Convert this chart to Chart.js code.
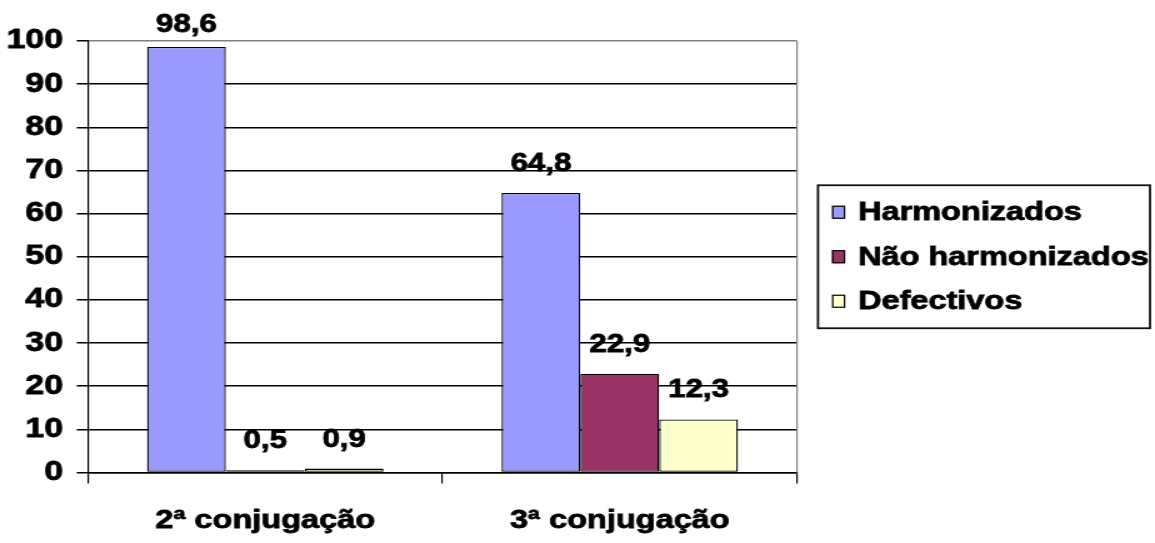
<!DOCTYPE html>
<html>
<head>
<meta charset="utf-8">
<script src="https://cdn.jsdelivr.net/npm/chart.js@4/dist/chart.umd.min.js"></script>
<style>
  body { margin: 0; background: #fff; overflow: hidden; }
  /* the original picture is stretched sideways, so the chart is too */
  #wrap { width: 924px; height: 543px; transform: scaleX(1.25); transform-origin: 0 0; }
</style>
</head>
<body>
<div id="wrap"><canvas id="chartConj" width="924" height="543"></canvas></div>
<script>
const categories = ["2ª conjugação", "3ª conjugação"];
const seriesNames = ["Harmonizados", "Não harmonizados", "Defectivos"];
const harmonizados = [98.6, 64.8];
const naoHarmonizados = [0.5, 22.9];
const defectivos = [0.9, 12.3];
const yMin = 0;
const yMax = 100;
const yStep = 10;

const colors = ["#9999FF", "#993366", "#FFFFCC"];
const fontName = "'Liberation Sans', Arial, sans-serif";
const heavy = 0.8; // extra stroke so the bold text looks as heavy as the original

function fmt(v) {
    return v.toFixed(1).replace(".", ",");
}

function boldText(c, txt, x, y) {
    c.lineWidth = heavy;
    c.strokeStyle = "#000";
    c.strokeText(txt, x, y);
    c.fillText(txt, x, y);
}

// value labels above each bar
const valueLabels = {
    id: "valueLabels",
    afterDatasetsDraw(chart) {
        const c = chart.ctx;
        c.save();
        c.font = "bold 25px " + fontName;
        c.fillStyle = "#000";
        c.textAlign = "center";
        c.textBaseline = "alphabetic";
        chart.data.datasets.forEach((ds, i) => {
            chart.getDatasetMeta(i).data.forEach((bar, j) => {
                const y = Math.max(bar.y - 22, 32);
                boldText(c, fmt(ds.data[j]), bar.x, y);
            });
        });
        c.restore();
    },
};

// gray right border of the plot area
const frame = {
    id: "frame",
    beforeDatasetsDraw(chart) {
        const a = chart.chartArea;
        const c = chart.ctx;
        c.save();
        c.strokeStyle = "#808080";
        c.lineWidth = 1.2;
        c.beginPath();
        c.moveTo(a.right, a.top);
        c.lineTo(a.right, a.bottom);
        c.stroke();
        c.restore();
    },
};

// boxed legend on the right
const boxLegend = {
    id: "boxLegend",
    afterDraw(chart) {
        const a = chart.chartArea;
        const c = chart.ctx;
        const left = a.right + 16.8;
        const right = chart.width - 4;
        const mid = (a.top + a.bottom) / 2;
        const rowH = 44.5;
        const h = 143;
        const top = mid - h / 2;
        c.save();
        c.strokeStyle = "#111";
        c.lineWidth = 1.8;
        c.strokeRect(left, top, right - left, h);
        c.font = "bold 26px " + fontName;
        c.textBaseline = "middle";
        c.textAlign = "left";
        chart.data.datasets.forEach((ds, i) => {
            const y = mid + (i - 1) * rowH;
            c.fillStyle = ds.backgroundColor;
            c.fillRect(left + 11.2, y - 6.5, 10.4, 13);
            c.strokeStyle = "#000";
            c.lineWidth = 1.2;
            c.strokeRect(left + 11.8, y - 6, 9.4, 12);
            c.fillStyle = "#000";
            boldText(c, ds.label, left + 32, y + 1);
        });
        c.restore();
    },
};

const ctx1 = document.getElementById("chartConj");

new Chart(ctx1, {
    type: "bar",
    data: {
        labels: categories,
        datasets: [
            { label: seriesNames[0], data: harmonizados, backgroundColor: colors[0] },
            { label: seriesNames[1], data: naoHarmonizados, backgroundColor: colors[1] },
            { label: seriesNames[2], data: defectivos, backgroundColor: colors[2] },
        ].map((d) => Object.assign(d, {
            borderColor: "#000",
            borderWidth: 1.3,
            borderSkipped: false,
            categoryPercentage: 0.667,
            barPercentage: 1.0,
        })),
    },
    options: {
        responsive: false,
        animation: false,
        layout: {
            padding: { top: 41, right: 286.4, bottom: 0, left: 0 },
        },
        plugins: {
            legend: { display: false },
            tooltip: { enabled: false },
        },
        scales: {
            x: {
                offset: true,
                grid: {
                    offset: true,
                    drawOnChartArea: false,
                    tickLength: 11,
                    tickColor: "#000",
                    color: "#000",
                    lineWidth: 1.2,
                },
                border: { color: "#000", width: 1.5 },
                ticks: {
                    color: "#000",
                    padding: 22,
                    textStrokeColor: "#000",
                    textStrokeWidth: heavy,
                    font: { family: fontName, size: 26, weight: "bold" },
                },
                afterFit(scale) {
                    scale.height = 70.5;
                },
            },
            y: {
                min: yMin,
                max: yMax,
                ticks: {
                    stepSize: yStep,
                    color: "#000",
                    padding: 11,
                    textStrokeColor: "#000",
                    textStrokeWidth: heavy,
                    font: { family: fontName, size: 27, weight: "bold" },
                    callback: (v) => v,
                },
                grid: {
                    tickLength: 9,
                    tickColor: "#000",
                    color: (c) => (c.tick && c.tick.value === yMax ? "#808080" : "#000"),
                    lineWidth: 1.5,
                },
                border: { color: "#000", width: 1.2 },
                afterFit(scale) {
                    scale.width = 70.4;
                },
            },
        },
    },
    plugins: [frame, valueLabels, boxLegend],
});
</script>
</body>
</html>
